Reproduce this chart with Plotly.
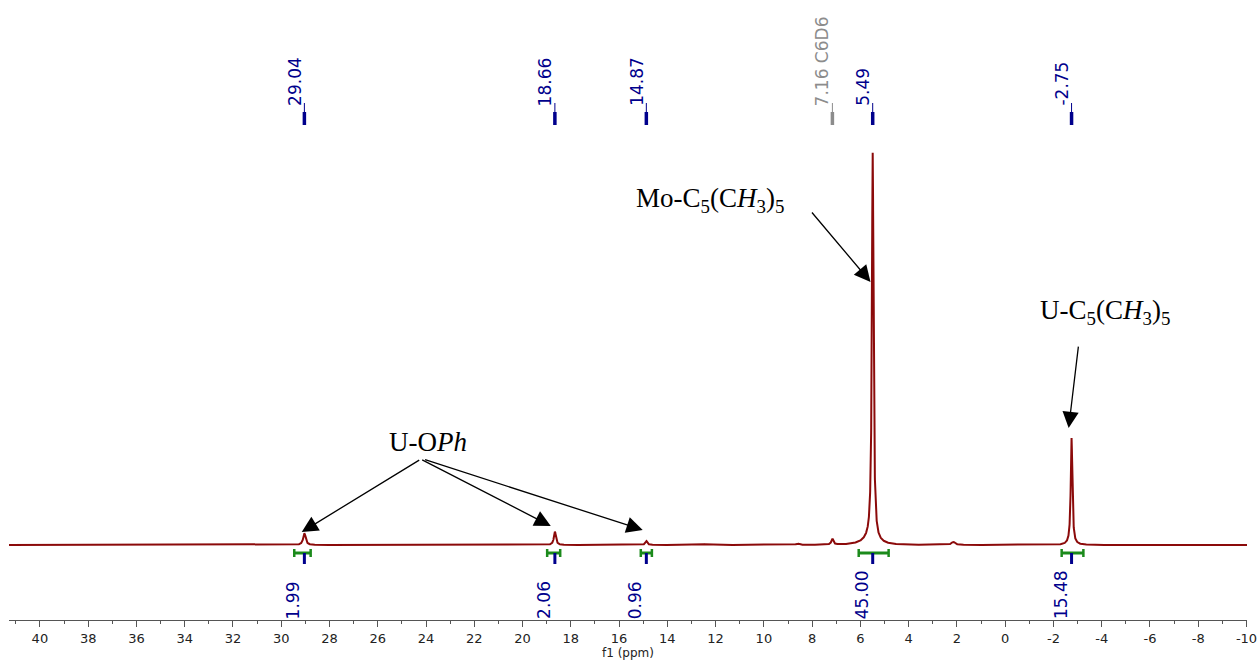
import numpy as np
import plotly.graph_objects as go

# 1H NMR peak list: shift (ppm), relative height, half width at half height (ppm)
peak_ppm = [29.04, 18.66, 14.87, 12.45, 8.60, 7.16, 5.62, 5.49, 2.15, -2.75]
peak_height = [3.0, 3.4, 1.0, 0.2, 0.35, 1.5, 1.2, 99.0, 0.8, 27.3]
peak_width = [0.06, 0.05, 0.05, 0.20, 0.08, 0.05, 0.35, 0.04, 0.08, 0.04]

# picked peaks labelled above the trace
label_ppm = [29.04, 18.66, 14.87, 7.16, 5.49, -2.75]
label_text = ["29.04", "18.66", "14.87", "7.16 C6D6", "5.49", "-2.75"]
label_solvent = [False, False, False, True, False, False]

# integral regions and their values
integral_from = [29.46, 18.98, 15.10, 6.07, -2.34]
integral_to = [28.78, 18.44, 14.64, 4.83, -3.24]
integral_peak = [29.04, 18.66, 14.87, 5.49, -2.75]
integral_value = ["1.99", "2.06", "0.96", "45.00", "15.48"]

# axis ticks
tick_vals = [40, 38, 36, 34, 32, 30, 28, 26, 24, 22, 20, 18, 16, 14, 12,
             10, 8, 6, 4, 2, 0, -2, -4, -6, -8, -10]
tick_text = ["40", "38", "36", "34", "32", "30", "28", "26", "24", "22", "20",
             "18", "16", "14", "12", "10", "8", "6", "4", "2", "0", "-2", "-4",
             "-6", "-8", "-10"]

X_RANGE = [41.28, -10.02]
Y_RANGE = [-19.13, 139.03]
PLOT_H = 620  # pixel height of the plotting area

NAVY = "#00008c"
GREY = "#8c8c8c"
GREEN = "#1b8a1b"
TRACE = "#8b0a0a"
LABEL_FONT = "DejaVu Sans, Verdana, sans-serif"
SERIF = "Liberation Serif, Times New Roman, serif"


def py(pix):
    """paper y for a pixel row measured from the top of the plot area"""
    return (PLOT_H - pix) / PLOT_H


# spectrum as a sum of Lorentzian lines
ppm = np.linspace(X_RANGE[0], X_RANGE[1], 24000)
intensity = np.zeros_like(ppm)
for p, h, w in zip(peak_ppm, peak_height, peak_width):
    intensity += h * w**2 / (w**2 + (ppm - p) ** 2)

fig = go.Figure()
fig.add_trace(go.Scatter(x=ppm, y=intensity, mode="lines",
                         line=dict(color=TRACE, width=2), hoverinfo="skip"))

shapes = []
annotations = []

# peak labels with their marker bars
for p, t, solv in zip(label_ppm, label_text, label_solvent):
    col = GREY if solv else NAVY
    shapes.append(dict(type="line", xref="x", yref="paper", x0=p, x1=p,
                       y0=py(125), y1=py(112), line=dict(color=col, width=3.5)))
    shapes.append(dict(type="line", xref="x", yref="paper", x0=p, x1=p,
                       y0=py(112), y1=py(103), line=dict(color=col, width=1)))
    annotations.append(dict(x=p, y=py(108), xref="x", yref="paper", text=t,
                            showarrow=False, textangle=-90, xanchor="center",
                            yanchor="bottom", xshift=-10,
                            font=dict(family=LABEL_FONT, size=17, color=col)))

# integral brackets, ticks and values
for a, b, p, v in zip(integral_from, integral_to, integral_peak, integral_value):
    shapes.append(dict(type="line", xref="x", yref="paper", x0=a, x1=b,
                       y0=py(553), y1=py(553), line=dict(color=GREEN, width=3)))
    for e in (a, b):
        shapes.append(dict(type="line", xref="x", yref="paper", x0=e, x1=e,
                           y0=py(549), y1=py(557), line=dict(color=GREEN, width=2.5)))
    shapes.append(dict(type="line", xref="x", yref="paper", x0=p, x1=p,
                       y0=py(553), y1=py(564), line=dict(color=NAVY, width=3)))
    annotations.append(dict(x=p, y=py(621), xref="x", yref="paper", text=v,
                            showarrow=False, textangle=-90, xanchor="center",
                            yanchor="bottom", xshift=-11,
                            font=dict(family=LABEL_FONT, size=17, color=NAVY)))

# assignment labels
text_font = dict(family=SERIF, size=27, color="black")
annotations.append(dict(x=23.93, y=26.3, text="U-O<i>Ph</i>", showarrow=False,
                        xanchor="center", yanchor="middle", font=text_font))
annotations.append(dict(x=12.25, y=88.0,
                        text="Mo-C<sub>5</sub>(C<i>H</i><sub>3</sub>)<sub>5</sub>",
                        showarrow=False, xanchor="center", yanchor="middle",
                        font=text_font))
annotations.append(dict(x=-4.12, y=59.4,
                        text="U-C<sub>5</sub>(C<i>H</i><sub>3</sub>)<sub>5</sub>",
                        showarrow=False, xanchor="center", yanchor="middle",
                        font=text_font))

# arrows: (tail ppm, tail y, head ppm, head y)
arrows = [
    (24.22, 21.9, 29.15, 3.3),
    (24.22, 21.9, 18.83, 4.85),
    (24.10, 21.9, 15.02, 3.83),
    (8.06, 85.2, 5.58, 67.1),
    (-3.04, 51.0, -2.63, 29.85),
]
for ax_, ay_, hx, hy in arrows:
    annotations.append(dict(x=hx, y=hy, ax=ax_, ay=ay_, xref="x", yref="y",
                            axref="x", ayref="y", text="", showarrow=True,
                            arrowhead=2, arrowsize=2.5, arrowwidth=1.3,
                            arrowcolor="black", standoff=0, startstandoff=0))

fig.update_layout(
    width=1260, height=660,
    margin=dict(l=9, r=13, t=0, b=40),
    paper_bgcolor="white", plot_bgcolor="white",
    showlegend=False,
    shapes=shapes, annotations=annotations,
    xaxis=dict(range=X_RANGE, showgrid=False, zeroline=False,
               showline=True, linecolor="#555", linewidth=1,
               tickmode="array", tickvals=tick_vals, ticktext=tick_text,
               ticks="outside", ticklen=6, tickcolor="#555",
               tickfont=dict(family=LABEL_FONT, size=13, color="#222"),
               minor=dict(dtick=1, tick0=0, ticks="outside", ticklen=3,
                          tickcolor="#555"),
               title=dict(text="f1 (ppm)", standoff=1,
                          font=dict(family=LABEL_FONT, size=12, color="#222"))),
    yaxis=dict(range=Y_RANGE, visible=False),
)

fig.write_html("out.html")
